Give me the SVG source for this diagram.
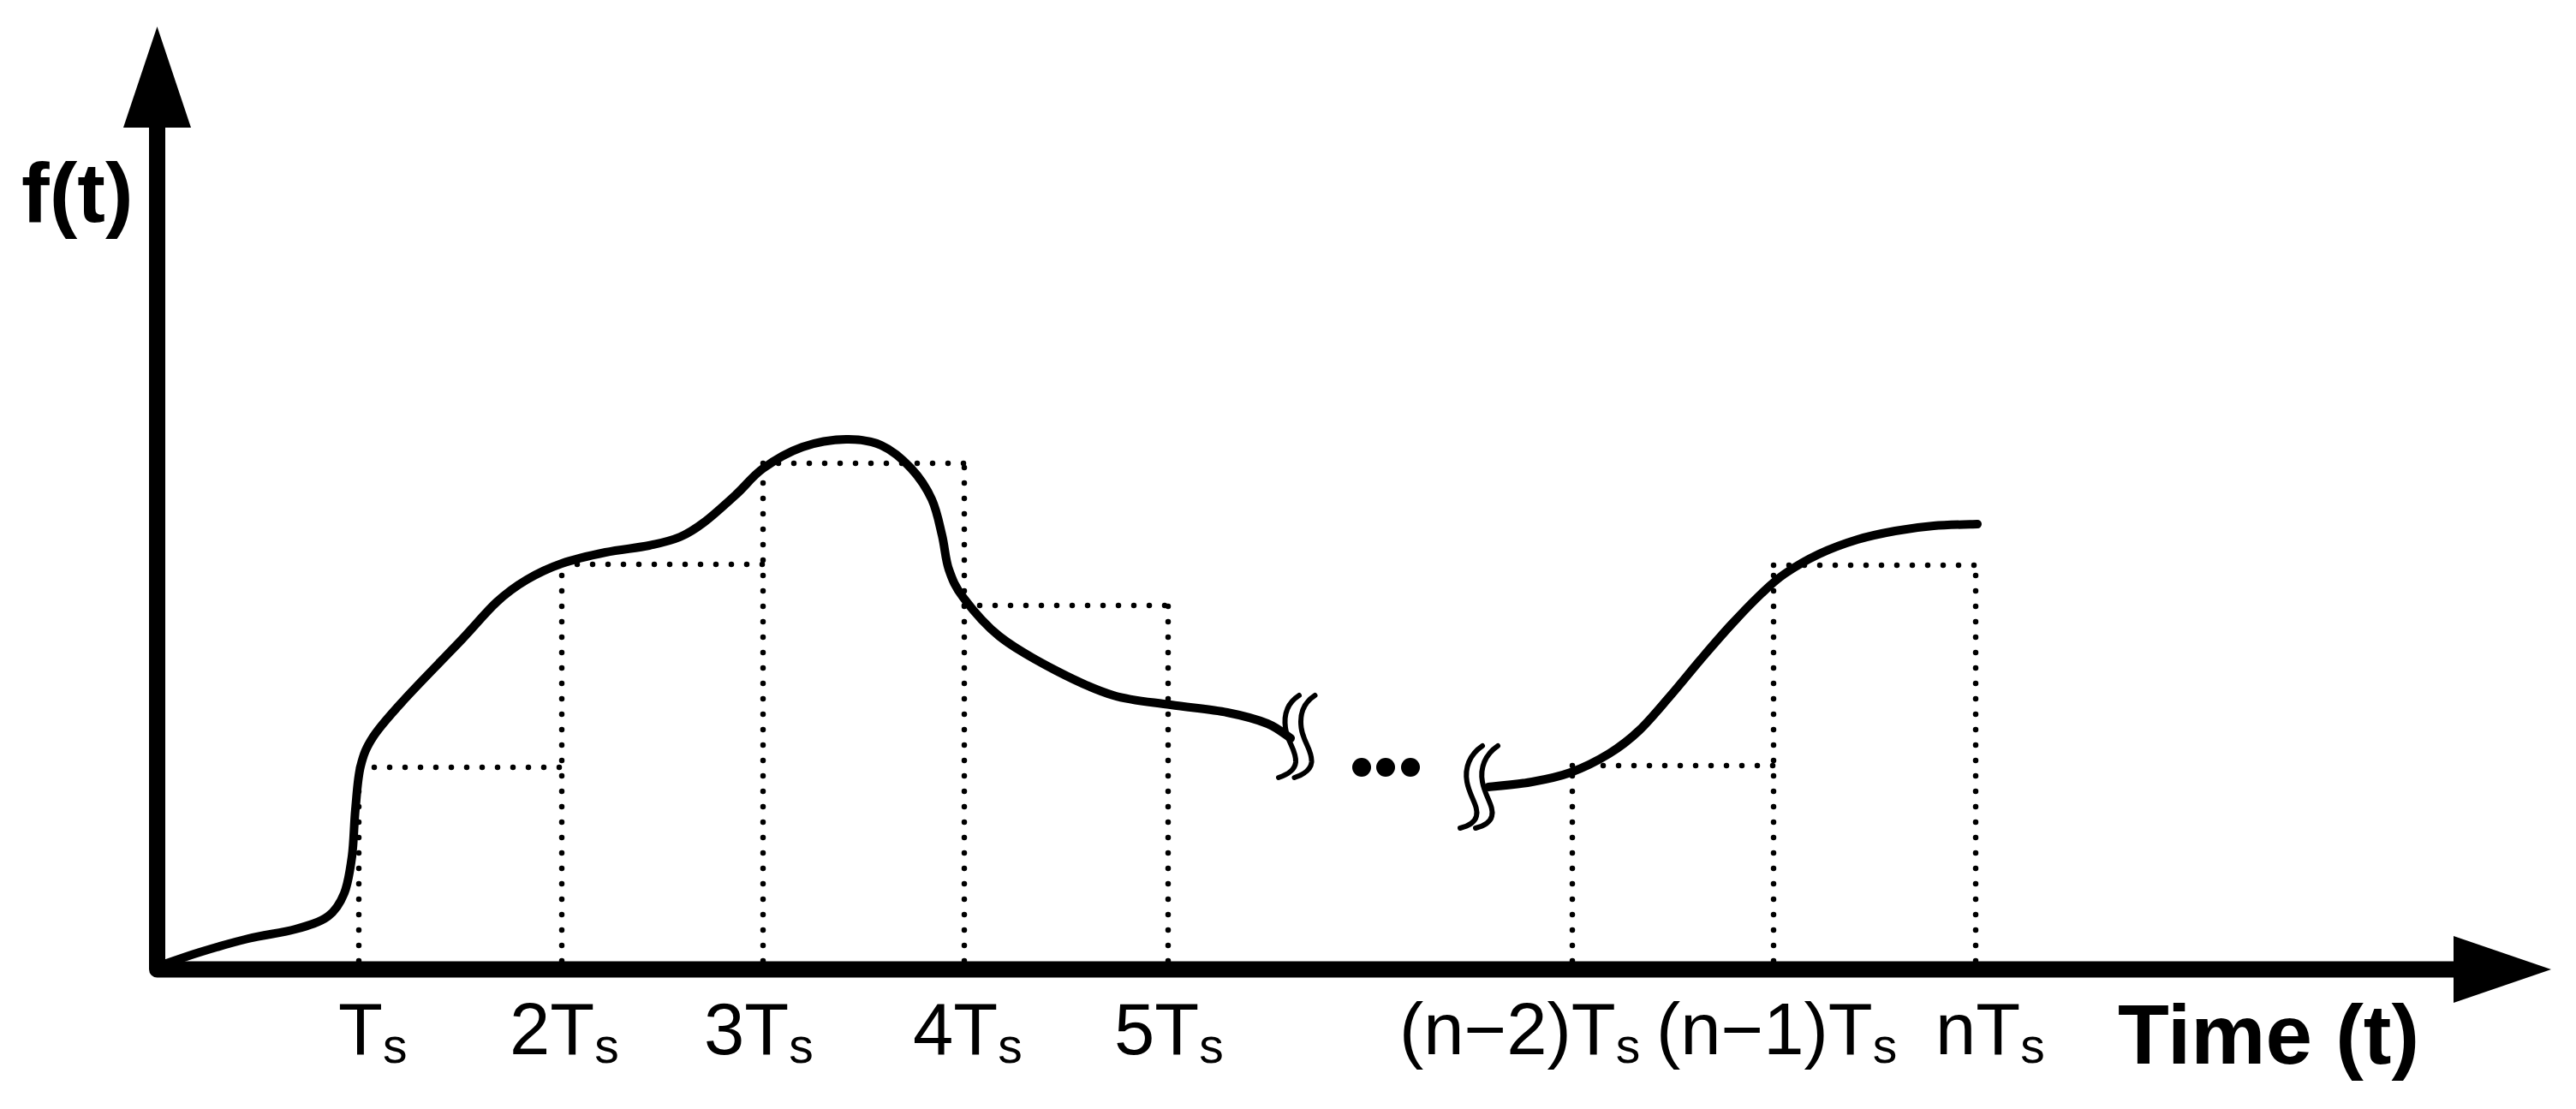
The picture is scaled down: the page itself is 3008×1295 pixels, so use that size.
<svg xmlns="http://www.w3.org/2000/svg" width="3008" height="1295" viewBox="0 0 3008 1295">
<style>
.lbl{font-family:"Liberation Sans",Arial,sans-serif;font-size:85px;fill:#000}
.sub{font-size:57px}
.bold{font-family:"Liberation Sans",Arial,sans-serif;font-size:98px;font-weight:bold;fill:#000}
.dot{fill:none;stroke:#000;stroke-width:6.5;stroke-linecap:round;stroke-dasharray:0 18}
.curve{fill:none;stroke:#000;stroke-width:10;stroke-linecap:round;stroke-linejoin:round}
.brk{fill:none;stroke:#000;stroke-width:6;stroke-linecap:round}
</style>
<defs>
<path id="brk1" d="M1517,812 C1503,821 1499,835 1501,850 C1503,866 1514,876 1513,890 C1512,900 1502,905 1493,908"/>
<path id="brk2" d="M1731,871 C1716,881 1710,897 1713,913 C1716,930 1727,942 1724,953 C1722,961 1713,965 1705,967"/>
</defs>
<rect width="3008" height="1295" fill="#fff"/>

<g id="samples">
<path class="dot" d="M419,1122 V896"/>
<path class="dot" d="M419,896 H656"/>
<path class="dot" d="M656,1122 V659"/>
<path class="dot" d="M656,659 H891"/>
<path class="dot" d="M891,1122 V541"/>
<path class="dot" d="M891,541 H1126"/>
<path class="dot" d="M1126,1122 V541"/>
<path class="dot" d="M1126,707 H1364"/>
<path class="dot" d="M1364,1122 V707"/>
<path class="dot" d="M1836,1122 V894"/>
<path class="dot" d="M1836,894 H2071"/>
<path class="dot" d="M2071,1122 V660"/>
<path class="dot" d="M2071,660 H2307"/>
<path class="dot" d="M2307,1122 V660"/>
</g>

<g id="signal">
<path class="curve" d="M186,1128 C193.8,1125.3 215.7,1117.3 233,1112 C250.3,1106.7 271.3,1100.5 290,1096 C308.7,1091.5 329.5,1089.3 345,1085 C360.5,1080.7 373.5,1077 383,1070 C392.5,1063 397.3,1054.7 402,1043 C406.7,1031.3 408.8,1016.3 411,1000 C413.2,983.7 413.3,962.5 415,945 C416.7,927.5 417.5,909.2 421,895 C424.5,880.8 427.5,873 436,860 C444.5,847 454.7,836 472,817 C489.3,798 522,765 540,746 C558,727 567.5,714.5 580,703 C592.5,691.5 602.3,684.5 615,677 C627.7,669.5 640.7,663.3 656,658 C671.3,652.7 690,648.5 707,645 C724,641.5 743.5,640 758,637 C772.5,634 783.3,631.5 794,627 C804.7,622.5 811,618.3 822,610 C833,601.7 848.5,587.5 860,577 C871.5,566.5 878.2,556.2 891,547 C903.8,537.8 920.8,527.7 937,522 C953.2,516.3 972.7,513.3 988,513 C1003.3,512.7 1016.3,514.3 1029,520 C1041.7,525.7 1054.2,536.5 1064,547 C1073.8,557.5 1082,570 1088,583 C1094,596 1096.7,611.3 1100,625 C1103.3,638.7 1103.8,652.8 1108,665 C1112.2,677.2 1115.2,685 1125,698 C1134.8,711 1149,728.8 1167,743 C1185,757.2 1210.8,771.5 1233,783 C1255.2,794.5 1277.7,805.3 1300,812 C1322.3,818.7 1344.8,819.7 1367,823 C1389.2,826.3 1414.2,828.3 1433,832 C1451.8,835.7 1467.7,840 1480,845 C1492.3,850 1502.5,859.2 1507,862"/>
<path class="curve" d="M1738,919 C1748.2,918 1773.3,915.8 1789,913 C1804.7,910.2 1819,907.5 1834,902 C1849,896.5 1865.7,888.2 1879,880 C1892.3,871.8 1902.2,864.2 1914,853 C1925.8,841.8 1938,826.8 1950,813 C1962,799.2 1974.2,783.8 1986,770 C1997.8,756.2 2009.2,742.8 2021,730 C2032.8,717.2 2046.5,703 2057,693 C2067.5,683 2072.8,677.7 2084,670 C2095.2,662.3 2109.8,653.7 2124,647 C2138.2,640.3 2154.2,634.5 2169,630 C2183.8,625.5 2198.2,622.7 2213,620 C2227.8,617.3 2242,615.3 2258,614 C2274,612.7 2300.5,612.3 2309,612"/>
</g>

<g id="breaks">
<use href="#brk1" class="brk"/>
<use href="#brk1" class="brk" transform="translate(18.5,0)"/>
<circle cx="1590" cy="896" r="11"/>
<circle cx="1618" cy="896" r="11"/>
<circle cx="1647" cy="896" r="11"/>
<use href="#brk2" class="brk"/>
<use href="#brk2" class="brk" transform="translate(18,0)"/>
</g>

<g id="axes">
<path d="M183.5,149 V1132 H2866" fill="none" stroke="#000" stroke-width="19" stroke-linejoin="round"/>
<polygon points="183.5,31 144,149 223,149"/>
<polygon points="2865,1093 2979,1132 2865,1171"/>
</g>

<g id="labels">
<text class="bold" x="25" y="259">f(t)</text>
<text class="bold" x="2473" y="1242">Time (t)</text>
<text class="lbl" x="395" y="1231">T<tspan class="sub" dy="10">s</tspan></text>
<text class="lbl" x="595" y="1231">2T<tspan class="sub" dy="10">s</tspan></text>
<text class="lbl" x="822" y="1231">3T<tspan class="sub" dy="10">s</tspan></text>
<text class="lbl" x="1066" y="1231">4T<tspan class="sub" dy="10">s</tspan></text>
<text class="lbl" x="1301" y="1231">5T<tspan class="sub" dy="10">s</tspan></text>
<text class="lbl" x="1634" y="1231">(n−2)T<tspan class="sub" dy="10">s</tspan></text>
<text class="lbl" x="1934" y="1231">(n−1)T<tspan class="sub" dy="10">s</tspan></text>
<text class="lbl" x="2260" y="1231">nT<tspan class="sub" dy="10">s</tspan></text>
</g>
</svg>
